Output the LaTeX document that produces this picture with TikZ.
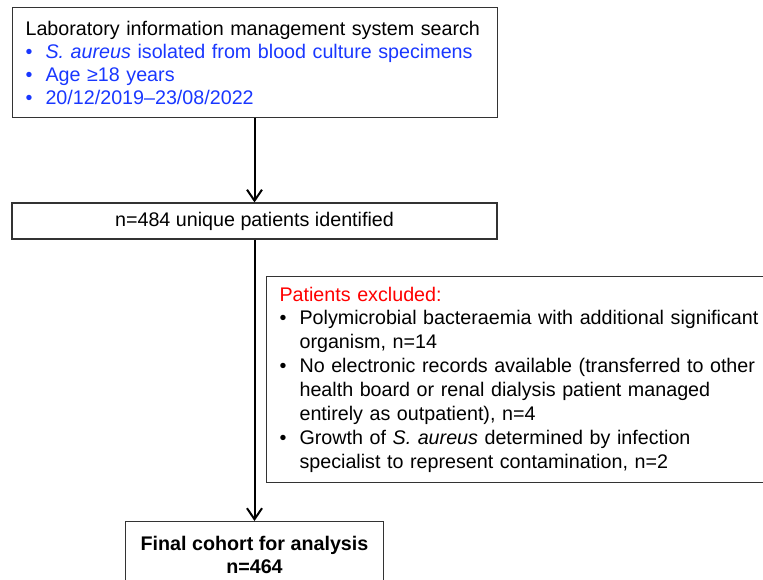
\documentclass[tikz,border=0pt]{standalone}
\usepackage{fontspec}
\setmainfont{Liberation Sans}
\usepackage{xcolor}
\usepackage{tikz}
\usetikzlibrary{arrows.meta,positioning}
\definecolor{listblue}{RGB}{25,55,255}
\newcommand{\itm}{\makebox[20pt][l]{\textbullet}}
\newcommand{\cnt}{\hspace*{20pt}}

\begin{document}
\begin{tikzpicture}[x=1pt, y=-1pt,
  box/.style={draw=black!80, line width=1.1pt, inner xsep=13pt, inner ysep=4pt,
              font=\fontsize{19.7}{23}\selectfont},
  arr/.style={-{Straight Barb[length=11pt,width=15pt]}, line width=2pt}]
\clip (0,0) rectangle (763,579);
\node[box, anchor=north west, text width=459pt, minimum height=110pt, align=left] (lims) at (12,7)
  {Laboratory information management system search\\
   \color{listblue}\itm\textit{S. aureus} isolated from blood culture specimens\\
   \color{listblue}\itm Age ≥18 years\\
   \color{listblue}\itm 20/12/2019–23/08/2022};
\node[box, minimum width=485pt, minimum height=36pt] (uniq) at (254.5,221)
  {n=484 unique patients identified};
\node[box, anchor=north west, text width=500pt, minimum height=206pt, align=left,
      font=\fontsize{19.7}{23.9}\selectfont] (excl) at (266,276)
  {\textcolor{red}{Patients excluded:}\\
   \itm Polymicrobial bacteraemia with additional significant\\
   \cnt organism, n=14\\
   \itm No electronic records available (transferred to other\\
   \cnt health board or renal dialysis patient managed\\
   \cnt entirely as outpatient), n=4\\
   \itm Growth of \textit{S. aureus} determined by infection\\
   \cnt specialist to represent contamination, n=2};
\node[box, anchor=north, minimum width=258pt, minimum height=66pt, align=center,
      font=\fontsize{19.7}{23}\selectfont\bfseries] (final) at (254.5,521)
  {Final cohort for analysis\\ n=464};
\draw[arr] (lims.south -| uniq.north) -- (uniq.north);
\draw[arr] (uniq.south) -- (final.north);
\end{tikzpicture}
\end{document}
